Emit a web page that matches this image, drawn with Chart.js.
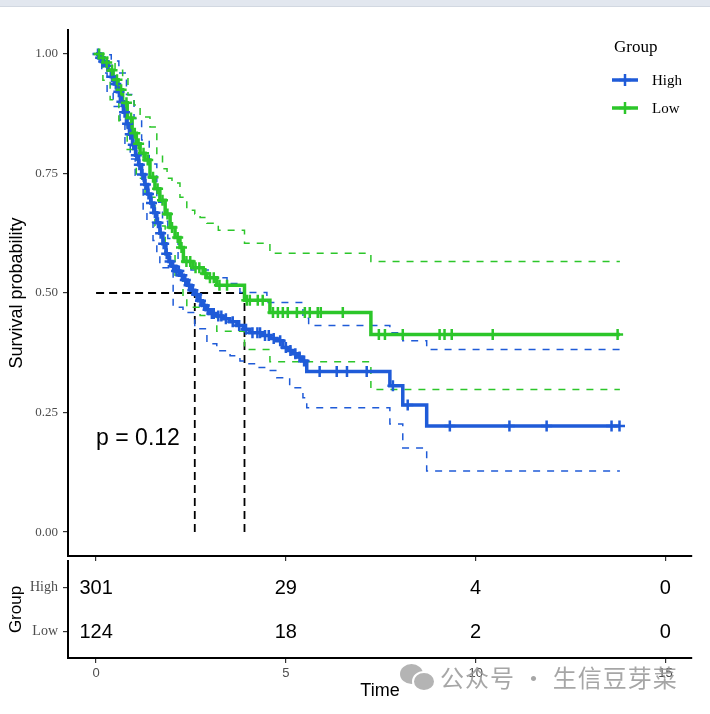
<!DOCTYPE html>
<html>
<head>
<meta charset="utf-8">
<script src="https://cdn.jsdelivr.net/npm/chart.js@4.4.1/dist/chart.umd.min.js"></script>
<style>
html,body{margin:0;padding:0;background:#fff;}
#wrap{position:relative;width:710px;height:714px;overflow:hidden;background:#fff;}
#topbar{position:absolute;left:0;top:0;width:710px;height:6px;background:#e2e7ef;border-bottom:1px solid #d2d8e1;}
#main{position:absolute;left:0;top:0;}
#table{position:absolute;left:0;top:560px;}
#wm{position:absolute;left:398px;top:660px;height:34px;width:300px;}
#wm .b1{position:absolute;left:2px;top:4px;width:23px;height:20px;border-radius:50%;background:#b4b4b4;}
#wm .b2{position:absolute;left:14px;top:11px;width:20px;height:17px;border-radius:50%;background:#b4b4b4;border:2px solid #fff;}
#wm .t{position:absolute;left:42px;top:0px;font-family:'Noto Sans CJK SC',sans-serif;font-size:24px;line-height:34px;color:rgba(150,150,150,0.85);letter-spacing:1px;white-space:nowrap;}
</style>
</head>
<body>
<div id="wrap">
<canvas id="main" width="710" height="564"></canvas>
<canvas id="table" width="710" height="154"></canvas>
<div id="topbar"></div>
<div id="wm"><div class="b1"></div><div class="b2"></div><div class="t">公众号 · 生信豆芽菜</div></div>
</div>
<script>
// ---------------- data ----------------
const groups = ['High', 'Low'];
const xTicks = [0, 5, 10, 15];
const xTickLabels = ['0', '5', '10', '15'];
const yTicks = [0, 0.25, 0.5, 0.75, 1];
const yTickLabels = ['0.00', '0.25', '0.50', '0.75', '1.00'];

const highTime = [0, 0.08, 0.16, 0.24, 0.32, 0.4, 0.48, 0.56, 0.64, 0.72, 0.8, 0.88, 0.96, 1.04, 1.12, 1.2, 1.28, 1.36, 1.44, 1.52, 1.6, 1.68, 1.76, 1.84, 1.92, 2.0,
  2.1, 2.2, 2.3, 2.4, 2.5, 2.6, 2.7, 2.8, 2.9, 3.0,
  3.17, 3.34, 3.52, 3.71, 3.88, 4.05, 4.39, 4.6, 4.76, 4.92, 5.05, 5.18, 5.3, 5.42, 5.55, 7.74, 8.08, 8.71, 13.8];
const highSurv = [1, 0.992, 0.984, 0.975, 0.966, 0.952, 0.937, 0.921, 0.9, 0.878, 0.854, 0.832, 0.81, 0.788, 0.768, 0.748, 0.727, 0.707, 0.688, 0.668, 0.647, 0.625, 0.603, 0.582, 0.566, 0.556,
  0.546, 0.537, 0.527, 0.516, 0.506, 0.497, 0.484, 0.474, 0.465, 0.457,
  0.452, 0.446, 0.44, 0.432, 0.424, 0.417, 0.411, 0.405, 0.4, 0.386, 0.38, 0.373, 0.366, 0.358, 0.336, 0.306, 0.266, 0.222, 0.222];

const highUpperTime = [0, 0.2, 0.4, 0.6, 0.8, 1.0, 1.2, 1.4, 1.6, 1.75, 1.89, 2.16, 2.5, 3.0, 3.45, 3.79, 4.5, 5.45, 5.6, 7.74, 8.08, 8.71, 13.8];
const highUpper = [1, 0.998, 0.985, 0.96, 0.915, 0.865, 0.82, 0.77, 0.69, 0.65, 0.614, 0.568, 0.548, 0.532, 0.52, 0.501, 0.48, 0.447, 0.432, 0.417, 0.4, 0.382, 0.382];

const highLowerTime = [0, 0.15, 0.29, 0.45, 0.63, 0.76, 0.9, 1.03, 1.24, 1.34, 1.5, 1.6, 1.68, 2.03, 2.29, 2.6, 2.92, 3.18, 3.53, 3.79, 3.97, 4.24, 4.5, 4.76, 5.1, 5.45, 5.55, 7.74, 8.08, 8.71, 13.8];
const highLower = [1, 0.96, 0.918, 0.89, 0.862, 0.813, 0.78, 0.746, 0.673, 0.648, 0.61, 0.583, 0.553, 0.47, 0.459, 0.425, 0.394, 0.379, 0.369, 0.358, 0.352, 0.344, 0.338, 0.323, 0.302, 0.281, 0.26, 0.226, 0.176, 0.128, 0.128];

const lowTime = [0, 0.1, 0.2, 0.32, 0.45, 0.58, 0.7, 0.82, 0.95, 1.06, 1.16, 1.29, 1.42, 1.55, 1.68, 1.82, 1.95, 2.08, 2.21, 2.3, 2.55, 2.82, 2.92, 3.18, 3.91, 4.58, 7.24, 13.8];
const lowSurv = [1, 0.992, 0.982, 0.966, 0.946, 0.925, 0.898, 0.866, 0.834, 0.812, 0.792, 0.778, 0.742, 0.718, 0.694, 0.665, 0.637, 0.616, 0.595, 0.566, 0.553, 0.541, 0.532, 0.516, 0.485, 0.459, 0.413, 0.413];

const lowUpperTime = [0, 0.3, 0.5, 0.7, 0.84, 1.0, 1.16, 1.42, 1.6, 1.75, 1.87, 2.0, 2.21, 2.39, 2.6, 2.74, 2.92, 3.22, 3.91, 4.58, 7.24, 13.8];
const lowUpper = [1, 0.985, 0.966, 0.952, 0.914, 0.893, 0.868, 0.847, 0.79, 0.76, 0.74, 0.73, 0.7, 0.673, 0.665, 0.658, 0.646, 0.631, 0.604, 0.583, 0.566, 0.566];

const lowLowerTime = [0, 0.18, 0.37, 0.6, 0.82, 1.06, 1.29, 1.55, 1.82, 2.08, 2.29, 2.39, 2.74, 3.18, 3.91, 4.58, 7.24, 13.8];
const lowLower = [1, 0.945, 0.904, 0.86, 0.8, 0.74, 0.7, 0.64, 0.58, 0.535, 0.491, 0.47, 0.453, 0.42, 0.382, 0.356, 0.298, 0.298];

const highCensor = [0.05, 0.12, 0.2, 0.3, 0.42, 0.52, 0.6, 0.68, 0.75, 0.83, 0.9, 0.98, 1.06, 1.14, 1.22, 1.3, 1.38, 1.46, 1.55, 1.63, 1.7, 1.78, 1.86, 1.95, 2.03, 2.12, 2.18, 2.26, 2.35, 2.45, 2.55, 2.65, 2.75, 2.85, 2.95, 3.05, 3.1, 3.22, 3.3, 3.42, 3.6, 3.77, 3.95, 4.12, 4.25, 4.32, 4.45, 4.55, 4.68, 4.85, 5.0, 5.12, 5.25, 5.36, 5.48, 5.89, 6.34, 6.61, 7.13, 7.82, 8.21, 9.32, 10.89, 11.87, 13.58, 13.79];
const lowCensor = [0.08, 0.18, 0.28, 0.42, 0.55, 0.66, 0.8, 0.92, 1.02, 1.12, 1.25, 1.36, 1.5, 1.62, 1.75, 1.88, 2.0, 2.15, 2.25, 2.38, 2.48, 2.62, 2.72, 2.88, 3.0, 3.1, 3.25, 3.45, 3.97, 4.05, 4.26, 4.39, 4.66, 4.79, 4.92, 5.05, 5.29, 5.5, 5.63, 5.84, 5.92, 6.5, 7.45, 7.61, 8.08, 9.05, 9.18, 9.37, 10.45, 13.74];

const medianHigh = 2.6;
const medianLow = 3.91;
const pValueText = 'p = 0.12';

const riskTimes = [0, 5, 10, 15];
const riskHigh = [301, 29, 4, 0];
const riskLow = [124, 18, 2, 0];

// ---------------- helpers ----------------
const SERIF = "'Liberation Serif','Times New Roman',serif";
const SANS = "'Liberation Sans',Arial,sans-serif";
const BLUE = '#1f5bd8';
const GREEN = '#2cc62a';

function stepAt(times, vals, t) {
  let v = vals[0];
  for (let i = 0; i < times.length; i++) { if (times[i] <= t) v = vals[i]; else break; }
  return v;
}
function pts(times, vals) { return times.map((t, i) => ({ x: t, y: vals[i] })); }

function lineDs(label, times, vals, color, width, dash, order) {
  return { type: 'line', label, data: pts(times, vals), stepped: 'before', borderColor: color, borderWidth: width,
    borderDash: dash, pointRadius: 0, fill: false, tension: 0, order, borderCapStyle: 'butt', borderJoinStyle: 'miter' };
}
function censorDs(label, cens, times, vals, color, order) {
  return { type: 'scatter', label, data: cens.map(t => ({ x: t, y: stepAt(times, vals, t) })),
    pointStyle: 'cross', pointRadius: 5.5, pointBorderWidth: 2.5, pointBorderColor: color, pointBackgroundColor: color,
    showLine: false, order };
}
function medDs(a, b) {
  return { type: 'line', label: 'median', data: [a, b], borderColor: '#000', borderWidth: 1.8, borderDash: [8, 5],
    pointRadius: 0, fill: false, order: 8 };
}

const axisGrid = { drawOnChartArea: false, drawTicks: true, tickLength: 5, color: '#333', lineWidth: 1.2 };
const axisBorder = { display: true, color: '#000', width: 2 };
function noPad(s) { s.paddingTop = 0; s.paddingBottom = 0; s.paddingLeft = 0; s.paddingRight = 0; }

// ---------------- main chart ----------------
const mainPlugin = {
  id: 'mainDeco',
  afterDraw(chart) {
    const ctx = chart.ctx, xs = chart.scales.x, ys = chart.scales.y;
    ctx.save();
    ctx.font = '23px ' + SANS; ctx.fillStyle = '#000'; ctx.textAlign = 'left'; ctx.textBaseline = 'middle';
    ctx.fillText(pValueText, xs.getPixelForValue(0), ys.getPixelForValue(0.195));
    ctx.font = '17px ' + SERIF; ctx.fillText('Group', 614, 48);
    const cols = [BLUE, GREEN];
    groups.forEach((g, i) => {
      const y = 80 + i * 28;
      ctx.strokeStyle = cols[i]; ctx.lineWidth = 3.5; ctx.beginPath(); ctx.moveTo(612, y); ctx.lineTo(638, y); ctx.stroke();
      ctx.lineWidth = 2.5; ctx.beginPath(); ctx.moveTo(619, y); ctx.lineTo(631, y); ctx.moveTo(625, y - 6); ctx.lineTo(625, y + 6); ctx.stroke();
      ctx.font = '15px ' + SERIF; ctx.fillStyle = '#000'; ctx.fillText(g, 652, y + 1);
    });
    ctx.restore();
  }
};

new Chart(document.getElementById('main'), {
  type: 'scatter',
  data: {
    datasets: [
      censorDs('Low +', lowCensor, lowTime, lowSurv, GREEN, 0),
      censorDs('High +', highCensor, highTime, highSurv, BLUE, 1),
      lineDs('Low', lowTime, lowSurv, GREEN, 3.5, [], 2),
      lineDs('High', highTime, highSurv, BLUE, 3.5, [], 3),
      lineDs('Low upper', lowUpperTime, lowUpper, GREEN, 1.5, [7, 7], 4),
      lineDs('Low lower', lowLowerTime, lowLower, GREEN, 1.5, [7, 7], 5),
      lineDs('High upper', highUpperTime, highUpper, BLUE, 1.5, [7, 7], 6),
      lineDs('High lower', highLowerTime, highLower, BLUE, 1.5, [7, 7], 7),
      medDs({ x: 0, y: 0.5 }, { x: medianLow, y: 0.5 }),
      medDs({ x: medianHigh, y: 0 }, { x: medianHigh, y: 0.5 }),
      medDs({ x: medianLow, y: 0 }, { x: medianLow, y: 0.5 })
    ]
  },
  options: {
    responsive: false, animation: false, devicePixelRatio: 1, events: [],
    layout: { padding: { top: 30, right: 18, left: 0, bottom: 0 } },
    plugins: { legend: { display: false }, tooltip: { enabled: false } },
    scales: {
      x: {
        type: 'linear', min: -0.74, max: 15.7,
        afterBuildTicks: s => { s.ticks = xTicks.map(v => ({ value: v })); },
        afterFit: s => { s.height = 5; noPad(s); },
        ticks: { display: false },
        grid: axisGrid, border: axisBorder
      },
      y: {
        type: 'linear', min: -0.05, max: 1.05,
        afterBuildTicks: s => { s.ticks = yTicks.map(v => ({ value: v })); },
        afterFit: s => { s.width = 68; noPad(s); },
        ticks: { callback: (v, i) => yTickLabels[i], font: { family: SERIF, size: 13 }, color: '#4d4d4d', padding: 5 },
        grid: axisGrid, border: axisBorder,
        title: { display: true, text: 'Survival probability', font: { family: SANS, size: 18 }, color: '#000', padding: { top: 6, bottom: 0 } }
      }
    }
  },
  plugins: [mainPlugin]
});

// ---------------- risk table ----------------
const riskRows = [riskHigh, riskLow];
const tablePlugin = {
  id: 'tableText',
  afterDraw(chart) {
    const ctx = chart.ctx, xs = chart.scales.x, ys = chart.scales.y;
    ctx.save();
    ctx.font = '20px ' + SANS; ctx.fillStyle = '#000'; ctx.textAlign = 'center'; ctx.textBaseline = 'middle';
    riskRows.forEach((row, gi) => {
      const yv = groups.length - gi;
      riskTimes.forEach((t, ti) => { ctx.fillText(String(row[ti]), xs.getPixelForValue(t), ys.getPixelForValue(yv) + 1); });
    });
    ctx.restore();
  }
};

new Chart(document.getElementById('table'), {
  type: 'scatter',
  data: { datasets: [{ data: [], pointRadius: 0 }] },
  options: {
    responsive: false, animation: false, devicePixelRatio: 1, events: [],
    layout: { padding: { top: 1, right: 18, left: 0, bottom: 0 } },
    plugins: { legend: { display: false }, tooltip: { enabled: false } },
    scales: {
      x: {
        type: 'linear', min: -0.74, max: 15.7,
        afterBuildTicks: s => { s.ticks = xTicks.map(v => ({ value: v })); },
        afterFit: s => { s.height = 56; noPad(s); },
        ticks: { callback: (v, i) => xTickLabels[i], font: { family: SANS, size: 13 }, color: '#4d4d4d', padding: 3, maxRotation: 0, autoSkip: false },
        grid: axisGrid, border: axisBorder,
        title: { display: true, text: 'Time', font: { family: SANS, size: 18 }, color: '#000', padding: { top: 0, bottom: 12 } }
      },
      y: {
        type: 'linear', min: 0.4, max: 2.6,
        afterBuildTicks: s => { s.ticks = [{ value: 1 }, { value: 2 }]; },
        afterFit: s => { s.width = 68; noPad(s); },
        ticks: { callback: v => groups[groups.length - v], font: { family: SERIF, size: 14 }, color: '#4d4d4d', padding: 5 },
        grid: axisGrid, border: axisBorder,
        title: { display: true, text: 'Group', font: { family: SANS, size: 17 }, color: '#000', padding: { top: 6, bottom: 0 } }
      }
    }
  },
  plugins: [tablePlugin]
});
</script>
</body>
</html>
